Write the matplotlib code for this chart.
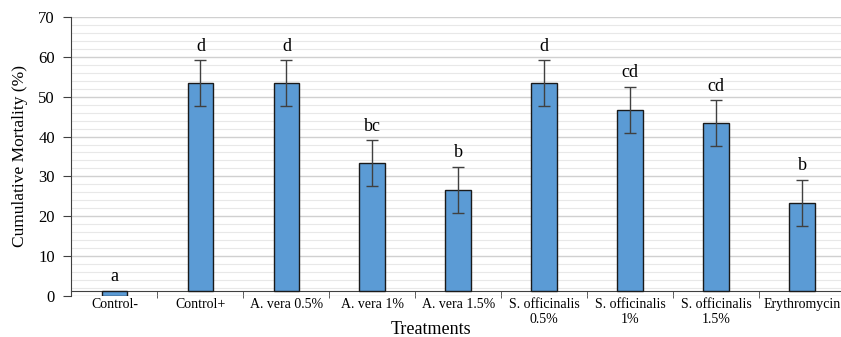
import matplotlib.pyplot as plt
import numpy as np

plt.rcParams['font.family'] = ['Liberation Serif', 'DejaVu Serif']

treatments = ["Control-", "Control+", "A. vera 0.5%", "A. vera 1%", "A. vera 1.5%",
              "S. officinalis\n0.5%", "S. officinalis\n1%", "S. officinalis\n1.5%",
              "Erythromycin"]
mortality = [0, 53.33, 53.33, 33.33, 26.67, 53.33, 46.67, 43.33, 23.33]
errors = [0, 5.77, 5.77, 5.77, 5.77, 5.77, 5.77, 5.77, 5.77]
letters = ["a", "d", "d", "bc", "b", "d", "cd", "cd", "b"]

cross = 1.33  # horizontal axis crosses here, bars start from it

fig = plt.figure(figsize=(8.41, 3.37), dpi=100)
ax = fig.add_axes([0.085, 0.1217, 0.92, 0.828])

x = np.arange(len(treatments))
vals = np.array(mortality)
ax.bar(x, vals - cross, bottom=cross, width=0.3, color="#5b9bd5",
       edgecolor="#1a1a1a", linewidth=1.0, zorder=3)

for xi, v, e, lab in zip(x, vals, errors, letters):
    if e > 0:
        ax.errorbar(xi, v, yerr=e, fmt="none", ecolor="#404040", elinewidth=1.0,
                    capsize=4.5, capthick=1.0, zorder=4)
        top = v + e
    else:
        top = cross
    ax.annotate(lab, (xi, top), xytext=(0, 4), textcoords="offset points",
                ha="center", va="bottom", fontsize=13)

ax.set_xlim(-0.5, len(treatments) - 0.5)
ax.set_ylim(0, 70)
ax.set_yticks(np.arange(0, 71, 10))
ax.set_yticks(np.arange(0, 71, 2), minor=True)
ax.tick_params(axis="y", which="major", labelsize=12, length=6, pad=6, color="#404040")
ax.tick_params(axis="y", which="minor", length=0)
ax.grid(axis="y", which="major", color="#d0d0d0", linewidth=1.0, zorder=0)
ax.grid(axis="y", which="minor", color="#e8e8e8", linewidth=0.8, zorder=0)

ax.set_xticks(x)
ax.set_xticklabels(treatments, fontsize=8.5, linespacing=1.0)
ax.tick_params(axis="x", which="major", length=0, pad=5)
ax.set_xticks(np.arange(0.5, len(treatments) - 0.5, 1), minor=True)
ax.tick_params(axis="x", which="minor", length=5, color="#404040", direction="out")

for s in ["top", "right"]:
    ax.spines[s].set_visible(False)
ax.spines["bottom"].set_position(("data", cross))
ax.spines["bottom"].set_color("#404040")
ax.spines["left"].set_color("#404040")

ax.set_ylabel("Cumulative Mortality (%)", fontsize=12.5)
ax.yaxis.set_label_coords(-0.056, 0.5)
fig.text(431 / 841, 1 - 329 / 337, "Treatments", fontsize=13,
         ha="center", va="center")

fig.savefig("out.png", dpi=100)
